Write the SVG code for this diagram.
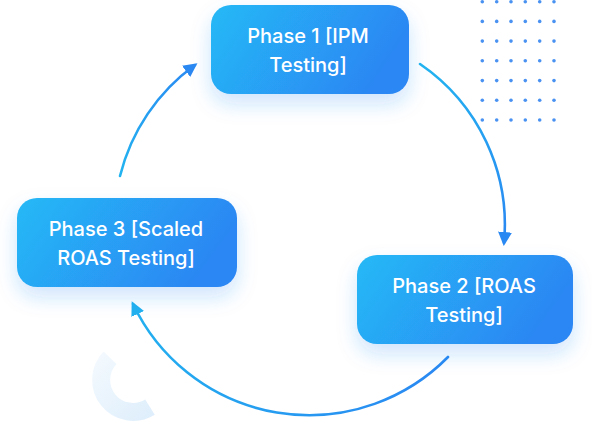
<svg xmlns="http://www.w3.org/2000/svg" width="592" height="439" viewBox="0 0 592 439">
<defs>
<style>
.box{fill:url(#boxGrad);filter:url(#shadow);}
.lbl{font-family:Inter,"Liberation Sans",sans-serif;font-size:20px;font-weight:500;fill:#ffffff;text-anchor:middle;}
.arc{fill:none;stroke-width:2.6;stroke-linecap:round;}
.dot{fill:#4a92f2;}
</style>
<linearGradient id="boxGrad" x1="0" y1="0" x2="1" y2="0.3">
<stop offset="0" stop-color="#27b9f6"/>
<stop offset="1" stop-color="#2a87f3"/>
</linearGradient>
<linearGradient id="g1" gradientUnits="userSpaceOnUse" x1="120" y1="176" x2="197" y2="63">
<stop offset="0" stop-color="#22b4f0"/>
<stop offset="1" stop-color="#2a88f2"/>
</linearGradient>
<linearGradient id="g2" gradientUnits="userSpaceOnUse" x1="420" y1="64" x2="504" y2="246">
<stop offset="0" stop-color="#22b4f0"/>
<stop offset="1" stop-color="#2a86f2"/>
</linearGradient>
<linearGradient id="g3" gradientUnits="userSpaceOnUse" x1="448" y1="357" x2="132" y2="301">
<stop offset="0" stop-color="#2a88f2"/>
<stop offset="1" stop-color="#22b0ef"/>
</linearGradient>
<linearGradient id="ringGrad" gradientUnits="userSpaceOnUse" x1="95" y1="360" x2="160" y2="420">
<stop offset="0" stop-color="#f3f9fe"/>
<stop offset="1" stop-color="#dcedfb"/>
</linearGradient>
<filter id="shadow" x="-30%" y="-30%" width="160%" height="180%">
<feDropShadow dx="0" dy="10" stdDeviation="10" flood-color="#2a8af2" flood-opacity="0.22"/>
</filter>
<marker id="headBlue" markerUnits="userSpaceOnUse" markerWidth="15" markerHeight="15" refX="11" refY="7" orient="auto" viewBox="0 0 15 15">
<path d="M0,0 L14,7 L0,14 z" fill="#2a88f2"/>
</marker>
<marker id="headCyan" markerUnits="userSpaceOnUse" markerWidth="15" markerHeight="15" refX="11" refY="7" orient="auto" viewBox="0 0 15 15">
<path d="M0,0 L14,7 L0,14 z" fill="#22b0ef"/>
</marker>
</defs>
<rect width="592" height="439" fill="#ffffff"/>
<g id="decor">
<path d="M150,407.1 A32,32 0 0 1 110,357.8" fill="none" stroke="url(#ringGrad)" stroke-width="18"/>
<g id="dots">
<circle class="dot" cx="482.3" cy="1.8" r="1.8"/><circle class="dot" cx="496.7" cy="1.8" r="1.8"/><circle class="dot" cx="511" cy="1.8" r="1.8"/><circle class="dot" cx="525.3" cy="1.8" r="1.8"/><circle class="dot" cx="539.7" cy="1.8" r="1.8"/><circle class="dot" cx="554" cy="1.8" r="1.8"/>
<circle class="dot" cx="482.3" cy="21.4" r="1.8"/><circle class="dot" cx="496.7" cy="21.4" r="1.8"/><circle class="dot" cx="511" cy="21.4" r="1.8"/><circle class="dot" cx="525.3" cy="21.4" r="1.8"/><circle class="dot" cx="539.7" cy="21.4" r="1.8"/><circle class="dot" cx="554" cy="21.4" r="1.8"/>
<circle class="dot" cx="482.3" cy="41.1" r="1.8"/><circle class="dot" cx="496.7" cy="41.1" r="1.8"/><circle class="dot" cx="511" cy="41.1" r="1.8"/><circle class="dot" cx="525.3" cy="41.1" r="1.8"/><circle class="dot" cx="539.7" cy="41.1" r="1.8"/><circle class="dot" cx="554" cy="41.1" r="1.8"/>
<circle class="dot" cx="482.3" cy="60.8" r="1.8"/><circle class="dot" cx="496.7" cy="60.8" r="1.8"/><circle class="dot" cx="511" cy="60.8" r="1.8"/><circle class="dot" cx="525.3" cy="60.8" r="1.8"/><circle class="dot" cx="539.7" cy="60.8" r="1.8"/><circle class="dot" cx="554" cy="60.8" r="1.8"/>
<circle class="dot" cx="482.3" cy="80.6" r="1.8"/><circle class="dot" cx="496.7" cy="80.6" r="1.8"/><circle class="dot" cx="511" cy="80.6" r="1.8"/><circle class="dot" cx="525.3" cy="80.6" r="1.8"/><circle class="dot" cx="539.7" cy="80.6" r="1.8"/><circle class="dot" cx="554" cy="80.6" r="1.8"/>
<circle class="dot" cx="482.3" cy="100.3" r="1.8"/><circle class="dot" cx="496.7" cy="100.3" r="1.8"/><circle class="dot" cx="511" cy="100.3" r="1.8"/><circle class="dot" cx="525.3" cy="100.3" r="1.8"/><circle class="dot" cx="539.7" cy="100.3" r="1.8"/><circle class="dot" cx="554" cy="100.3" r="1.8"/>
<circle class="dot" cx="482.3" cy="120" r="1.8"/><circle class="dot" cx="496.7" cy="120" r="1.8"/><circle class="dot" cx="511" cy="120" r="1.8"/><circle class="dot" cx="525.3" cy="120" r="1.8"/><circle class="dot" cx="539.7" cy="120" r="1.8"/><circle class="dot" cx="554" cy="120" r="1.8"/>
</g>
</g>
<g id="connectors">
<path class="arc" stroke="url(#g1)" d="M120,176 A195,195 0 0 1 195,65" marker-end="url(#headBlue)"/>
<path class="arc" stroke="url(#g2)" d="M420,64 A195,195 0 0 1 504,243" marker-end="url(#headBlue)"/>
<path class="arc" stroke="url(#g3)" d="M448,357 A195,195 0 0 1 133,304" marker-end="url(#headCyan)"/>
</g>
<g id="phase1">
<rect class="box" x="211" y="5" width="198" height="89" rx="20"/>
<text class="lbl" x="308" y="43">Phase 1 [IPM</text>
<text class="lbl" x="308" y="72">Testing]</text>
</g>
<g id="phase2">
<rect class="box" x="357" y="255" width="216" height="89" rx="20"/>
<text class="lbl" x="464" y="293">Phase 2 [ROAS</text>
<text class="lbl" x="464" y="322">Testing]</text>
</g>
<g id="phase3">
<rect class="box" x="17" y="198" width="220" height="89" rx="20"/>
<text class="lbl" x="126" y="236">Phase 3 [Scaled</text>
<text class="lbl" x="126" y="265">ROAS Testing]</text>
</g>
</svg>
